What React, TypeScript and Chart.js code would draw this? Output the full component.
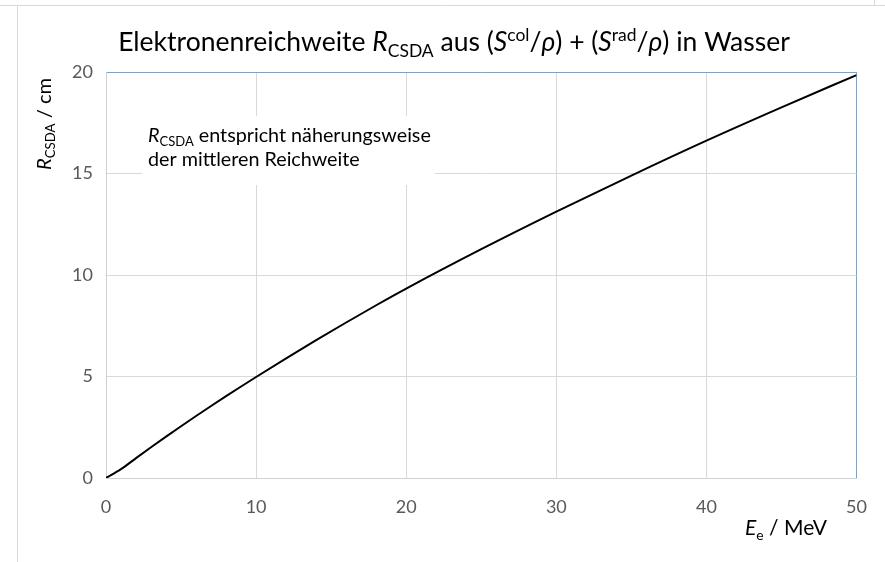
import React, { useEffect, useRef } from "react";
import { Chart, registerables } from "chart.js";

Chart.register(...registerables);

// Electron energy E_e / MeV
const energies = [0, 1, 2, 3, 4, 5, 6, 7, 8, 9, 10, 12, 14, 16, 18, 20, 25, 30, 35, 40, 45, 50];
// CSDA range R_CSDA / cm in water
const ranges = [0, 0.437, 0.979, 1.514, 2.037, 2.55, 3.052, 3.545, 4.03, 4.506, 4.975, 5.895, 6.789, 7.66, 8.51, 9.33, 11.27, 13.12, 14.9, 16.62, 18.26, 19.85];

const xTicks = [0, 10, 20, 30, 40, 50];
const yTicks = [0, 5, 10, 15, 20];

const FONT = "Lato, 'Open Sans', sans-serif";

type Seg = { t: string; i?: boolean; s?: "sub" | "sup" };

const titleSegs: Seg[] = [
  { t: "Elektronenreichweite " },
  { t: "R", i: true },
  { t: "CSDA", s: "sub" },
  { t: " aus (" },
  { t: "S", i: true },
  { t: "col", s: "sup" },
  { t: "/" },
  { t: "ρ", i: true },
  { t: ") + (" },
  { t: "S", i: true },
  { t: "rad", s: "sup" },
  { t: "/" },
  { t: "ρ", i: true },
  { t: ") in Wasser" },
];
const yTitleSegs: Seg[] = [{ t: "R", i: true }, { t: "CSDA", s: "sub" }, { t: " / cm" }];
const xTitleSegs: Seg[] = [{ t: "E", i: true }, { t: "e", s: "sub" }, { t: " / MeV" }];
const note1Segs: Seg[] = [{ t: "R", i: true }, { t: "CSDA", s: "sub" }, { t: " entspricht näherungsweise" }];
const note2Segs: Seg[] = [{ t: "der mittleren Reichweite" }];

function fontFor(seg: Seg, size: number) {
  const sz = seg.s ? size * 0.66 : size;
  return `${seg.i ? "italic " : ""}${sz}px ${FONT}`;
}

function measure(ctx: CanvasRenderingContext2D, segs: Seg[], size: number) {
  let w = 0;
  for (const s of segs) {
    ctx.font = fontFor(s, size);
    w += ctx.measureText(s.t).width;
  }
  return w;
}

function fitSize(ctx: CanvasRenderingContext2D, segs: Seg[], target: number, base: number) {
  const w = measure(ctx, segs, base);
  return (base * target) / w;
}

function drawRich(
  ctx: CanvasRenderingContext2D,
  segs: Seg[],
  x: number,
  y: number,
  size: number,
  color: string,
  align: "left" | "center"
) {
  const w = measure(ctx, segs, size);
  let cx = align === "center" ? x - w / 2 : x;
  ctx.fillStyle = color;
  ctx.textBaseline = "alphabetic";
  ctx.textAlign = "left";
  for (const s of segs) {
    ctx.font = fontFor(s, size);
    const dy = s.s === "sub" ? size * 0.22 : s.s === "sup" ? -size * 0.38 : 0;
    ctx.fillText(s.t, cx, y + dy);
    cx += ctx.measureText(s.t).width;
  }
}

const overlayPlugin = {
  id: "overlay",
  afterDraw(chart: any) {
    const ctx: CanvasRenderingContext2D = chart.ctx;
    ctx.save();
    // outer frame lines
    ctx.strokeStyle = "#d9d9d9";
    ctx.lineWidth = 1;
    ctx.beginPath();
    ctx.moveTo(0, 5.5);
    ctx.lineTo(885, 5.5);
    ctx.moveTo(17.5, 5.5);
    ctx.lineTo(17.5, 562);
    ctx.moveTo(874.5, 0);
    ctx.lineTo(874.5, 5.5);
    ctx.stroke();

    // title
    const ts = fitSize(ctx, titleSegs, 672, 24);
    drawRich(ctx, titleSegs, 454, 51, ts, "#000", "center");

    // y axis title (rotated)
    const ys = fitSize(ctx, yTitleSegs, 92, 22);
    ctx.save();
    ctx.translate(51, 124);
    ctx.rotate(-Math.PI / 2);
    drawRich(ctx, yTitleSegs, 0, 0, ys, "#000", "center");
    ctx.restore();

    // x axis title
    const xs = fitSize(ctx, xTitleSegs, 82, 20);
    drawRich(ctx, xTitleSegs, 745, 535, xs, "#000", "left");

    // annotation box
    ctx.fillStyle = "#fff";
    ctx.fillRect(142, 116, 293, 69);
    const ns = fitSize(ctx, note1Segs, 283, 17);
    drawRich(ctx, note1Segs, 148, 142, ns, "#000", "left");
    drawRich(ctx, note2Segs, 148, 166, ns, "#000", "left");
    ctx.restore();
  },
};

export default function App() {
  const ref = useRef<HTMLCanvasElement>(null);
  useEffect(() => {
    document.body.style.margin = "0";
    const blue = "#6ea6dc";
    const grey = "#d9d9d9";
    const chart = new Chart(ref.current!, {
      type: "line",
      data: {
        datasets: [
          {
            data: energies.map((e, i) => ({ x: e, y: ranges[i] })),
            borderColor: "#000",
            borderWidth: 2,
            pointRadius: 0,
            cubicInterpolationMode: "monotone",
            fill: false,
          },
        ],
      },
      options: {
        animation: false,
        responsive: false,
        layout: { padding: { left: 0, right: 23, top: 72, bottom: 0 } },
        plugins: {
          legend: { display: false },
          title: { display: false },
          tooltip: { enabled: false },
        },
        scales: {
          x: {
            type: "linear",
            min: 0,
            max: 50,
            afterFit: (s: any) => {
              s.height = 84;
            },
            afterBuildTicks: (s: any) => {
              s.ticks = xTicks.map((v) => ({ value: v }));
            },
            grid: {
              drawTicks: false,
              color: (c: any) => (c.tick && c.tick.value === 50 ? blue : grey),
              lineWidth: 1,
            },
            border: { display: true, color: "#d0d0d0", width: 1 },
            ticks: {
              padding: 18,
              color: "#595959",
              font: { family: FONT, size: 18 },
            },
          },
          y: {
            type: "linear",
            min: 0,
            max: 20,
            afterFit: (s: any) => {
              s.width = 106;
            },
            afterBuildTicks: (s: any) => {
              s.ticks = yTicks.map((v) => ({ value: v }));
            },
            grid: {
              drawTicks: false,
              color: (c: any) => (c.tick && c.tick.value === 20 ? blue : grey),
              lineWidth: 1,
            },
            border: { display: true, color: "#d0d0d0", width: 1 },
            ticks: {
              padding: 13,
              color: "#595959",
              font: { family: FONT, size: 18 },
            },
          },
        },
      },
      plugins: [overlayPlugin],
    });
    return () => chart.destroy();
  }, []);
  return (
    <div style={{ width: 885, height: 562, position: "relative" }}>
      <canvas ref={ref} width={885} height={562} />
    </div>
  );
}
